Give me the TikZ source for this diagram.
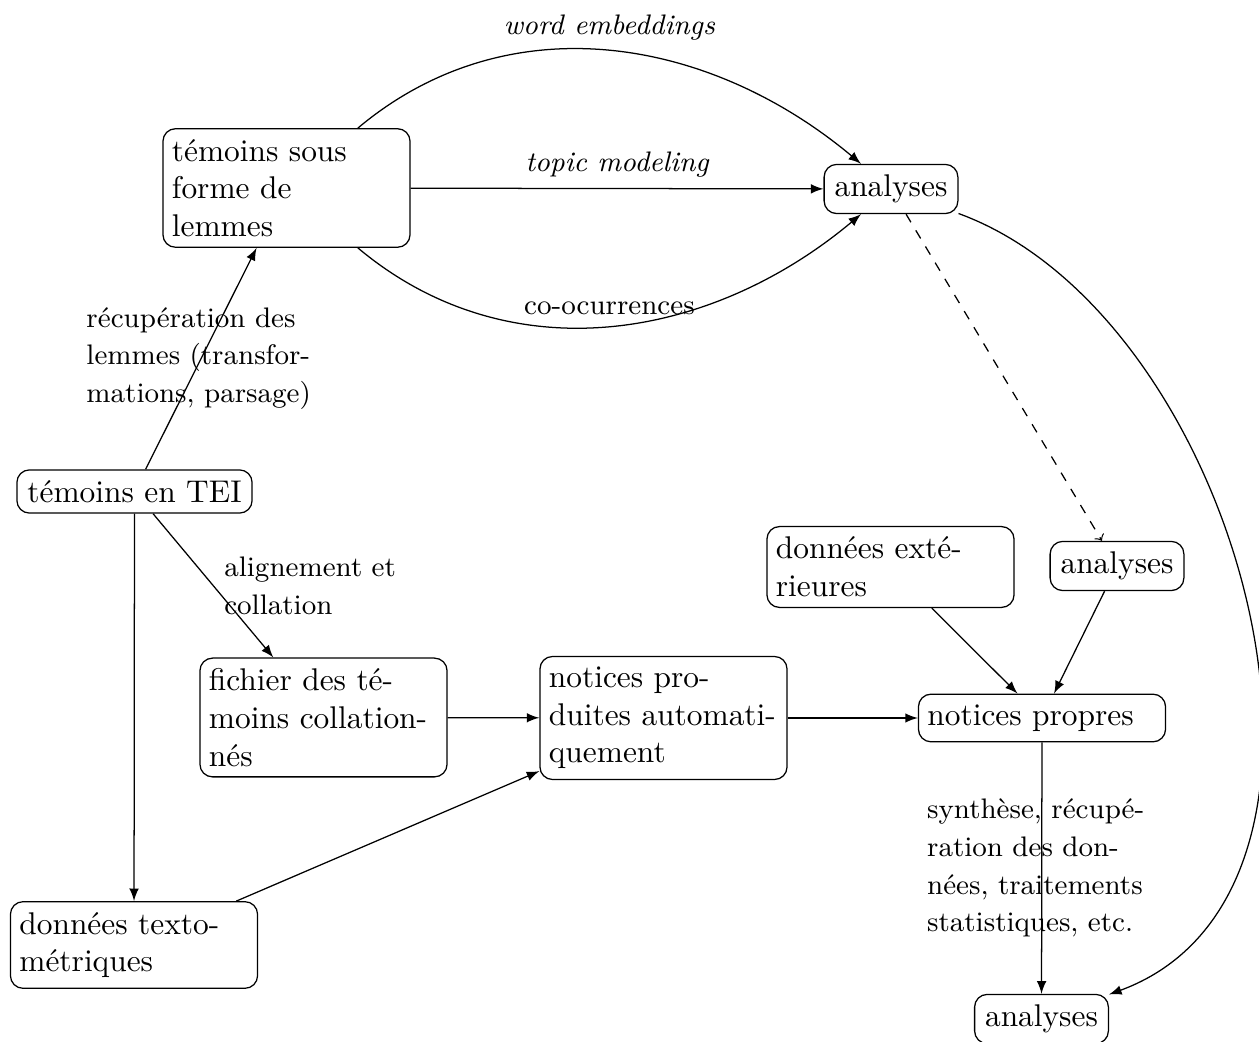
\documentclass[tikz,border=0pt]{standalone}
\usetikzlibrary{arrows}
\begin{document}
\begin{tikzpicture}[x=0.3185pt,y=0.3185pt,
  box/.style={draw, rounded corners=4pt, align=left, font=\normalsize},
  wbox/.style={box, text width=73pt, inner xsep=2.85pt},
  lab/.style={font={\fontsize{9}{12}\selectfont}, align=left, text width=73pt},
  tlab/.style={font={\fontsize{9}{12}\selectfont\itshape}},
  arr/.style={-latex},
]
\useasboundingbox (0,0) rectangle (1259,-1042);
\node[wbox] (lem) at (286.5,-188) {témoins sous\\forme de\\lemmes};
\node[box] (a1) at (891,-189) {analyses};
\node[box] (tei) at (134.5,-491.5) {témoins en TEI};
\node[box] (a2) at (1117,-566) {analyses};
\node[wbox] (ext) at (890.5,-567) {données exté-\\rieures};
\node[wbox] (fich) at (323.5,-717.5) {fichier des té-\\moins collation-\\nés};
\node[wbox] (auto) at (663.5,-718) {notices pro-\\duites automati-\\quement};
\node[wbox] (prop) at (1042,-718) {notices propres};
\node[wbox] (texto) at (134,-945) {données texto-\\métriques};
\node[box] (a3) at (1041.5,-1019) {analyses};

\draw[arr] (tei) -- (lem) node[midway, lab] (l1) {récupération des\\lemmes (transfor-\\mations, parsage)};
\draw[arr] (tei) -- (fich) node[midway, right, lab] (l2) {alignement et\\collation};
\draw[arr] (tei) -- (texto);
\draw[arr] (lem) -- (a1) node[midway, above, tlab] (l3) {topic modeling};
\draw[arr] (lem) to[out=40,in=140] node[above, tlab] (l4) {word embeddings} (a1);
\draw[arr] (lem) to[out=-40,in=-140] node[above, lab, text width=] (l5) {co-ocurrences} (a1);
\draw[arr] (fich) -- (auto);
\draw[arr] (texto) -- (auto);
\draw[arr] (auto) -- (prop);
\draw[arr] (ext) -- (prop);
\draw[arr] (a2) -- (prop);
\draw[dashed, ->] (a1) -- (a2);
\draw[arr] (prop) -- (a3) node[midway, lab] (l6) {synthèse, récupé-\\ration des don-\\nées, traitements\\statistiques, etc.};
\draw[arr] (a1) to[out=-20,in=20,looseness=0.97] (a3);
\end{tikzpicture}
\end{document}
